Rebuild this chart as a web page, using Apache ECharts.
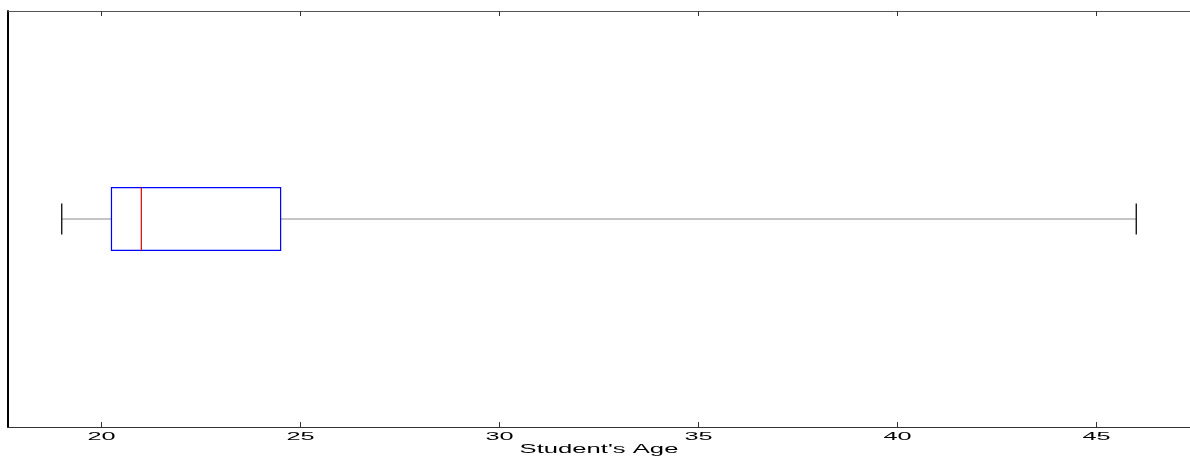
<!DOCTYPE html>
<html>
<head>
<meta charset="utf-8">
<title>Student's Age</title>
<script src="https://cdn.jsdelivr.net/npm/echarts@6/dist/echarts.min.js"></script>
<style>
  html, body { margin: 0; padding: 0; background: #fff; overflow: hidden; }
  #chart { width: 1190px; height: 456px; }
</style>
</head>
<body>
<div id="chart"></div>
<script>
// Axis text
const axisTitle = "Student's Age";
const tickValues = [20, 25, 30, 35, 40, 45];
const tickLabels = ['20', '25', '30', '35', '40', '45'];

// Five-number summary per box (one box here)
const boxPositions = [1];
const minimums = [19];
const lowerQuartiles = [20.25];
const medians = [21];
const upperQuartiles = [24.5];
const maximums = [46];

const boxRows = boxPositions.map((p, i) => [
  p, minimums[i], lowerQuartiles[i], medians[i], upperQuartiles[i], maximums[i]
]);

const BOX_HALF = 0.0755;   // half box height in y units
const CAP_HALF = 0.0375;   // half whisker-cap height in y units

const chart = echarts.init(document.getElementById('chart'), null, { renderer: 'canvas' });

function renderBox(params, api) {
  const y = api.value(0);
  const lo = api.value(1), q1 = api.value(2), med = api.value(3), q3 = api.value(4), hi = api.value(5);
  const P = (x, yy) => api.coord([x, yy]);
  const top = P(q1, y + BOX_HALF)[1];
  const bot = P(q1, y - BOX_HALF)[1];
  const capTop = P(lo, y + CAP_HALF)[1];
  const capBot = P(lo, y - CAP_HALF)[1];
  const xLo = P(lo, y)[0], xQ1 = P(q1, y)[0], xMed = P(med, y)[0], xQ3 = P(q3, y)[0], xHi = P(hi, y)[0];
  const yc = P(lo, y)[1];
  const whisker = { stroke: '#8a8a8a', lineWidth: 1.2 };
  const cap = { stroke: '#1a1a1a', lineWidth: 1.4 };
  return {
    type: 'group',
    children: [
      { type: 'line', shape: { x1: xLo, y1: yc, x2: xQ1, y2: yc }, style: whisker },
      { type: 'line', shape: { x1: xQ3, y1: yc, x2: xHi, y2: yc }, style: whisker },
      { type: 'line', shape: { x1: xLo, y1: capTop, x2: xLo, y2: capBot }, style: cap },
      { type: 'line', shape: { x1: xHi, y1: capTop, x2: xHi, y2: capBot }, style: cap },
      { type: 'rect', shape: { x: xQ1, y: top, width: xQ3 - xQ1, height: bot - top },
        style: { fill: 'none', stroke: '#0000ff', lineWidth: 1.2 } },
      { type: 'line', shape: { x1: xMed, y1: top, x2: xMed, y2: bot },
        style: { stroke: '#e00000', lineWidth: 1.2 } }
    ]
  };
}

const xCommon = {
  type: 'value',
  min: 17.65,
  max: 47.35,
  splitLine: { show: false },
  axisLabel: { show: false },
  axisTick: {
    show: true, inside: true, length: 5, customValues: tickValues,
    lineStyle: { color: '#333', width: 1 }
  }
};

chart.setOption({
  animation: false,
  backgroundColor: '#ffffff',
  grid: { left: 8, top: 11, width: 1185, height: 416 },
  xAxis: [
    Object.assign({}, xCommon, {
      position: 'bottom',
      axisLine: { show: true, onZero: false, lineStyle: { color: '#333', width: 1.2 } }
    }),
    Object.assign({}, xCommon, {
      position: 'top',
      axisLine: { show: true, onZero: false, lineStyle: { color: '#555', width: 1 } }
    })
  ],
  yAxis: {
    type: 'value',
    min: 0.5,
    max: 1.5,
    splitLine: { show: false },
    axisLabel: { show: false },
    axisTick: { show: false },
    axisLine: { show: true, onZero: false, lineStyle: { color: '#000', width: 2 } }
  },
  series: [{
    type: 'custom',
    renderItem: renderBox,
    encode: { x: [1, 2, 3, 4, 5], y: 0 },
    data: boxRows,
    silent: true
  }]
});

// Tick labels and axis title placed with the x axis scale (wide lettering)
function textEl(str, x, y, size, stretch) {
  return {
    type: 'text', x: x, y: y, scaleX: stretch, silent: true,
    style: {
      text: str, fill: '#000',
      fontFamily: 'Liberation Sans, Arial, sans-serif', fontSize: size,
      textAlign: 'center', textVerticalAlign: 'middle',
      align: 'center', verticalAlign: 'middle'
    }
  };
}
const labelEls = tickValues.map((v, i) =>
  textEl(tickLabels[i], chart.convertToPixel({ xAxisIndex: 0 }, v), 437, 11, 2.3));
const midValue = (17.65 + 47.35) / 2;
labelEls.push(textEl(axisTitle, chart.convertToPixel({ xAxisIndex: 0 }, midValue), 450, 12.5, 2.05));
chart.setOption({ graphic: labelEls });
</script>
</body>
</html>
